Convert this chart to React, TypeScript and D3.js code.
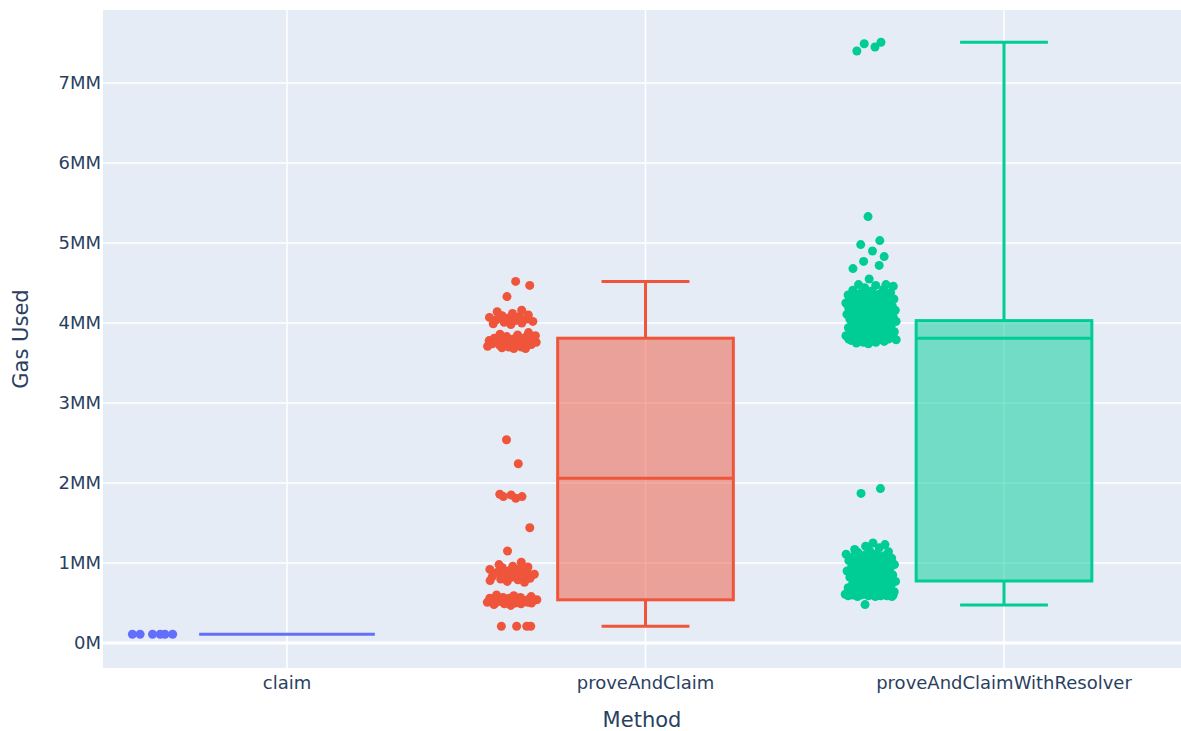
import React from 'react';
import * as d3 from 'd3';

const categories = ['claim', 'proveAndClaim', 'proveAndClaimWithResolver'];
const colors = ['#636efa', '#EF553B', '#00cc96'];

// values in millions of gas
const claimPoints = [0.11, 0.11, 0.11, 0.11, 0.11, 0.11];

const proveAndClaimPoints = [
  4.52, 4.47, 4.33,
  4.16, 4.14, 4.12, 4.10, 4.09, 4.08, 4.07, 4.06, 4.05, 4.04, 4.03, 4.02, 4.01, 4.00, 3.99, 3.98,
  3.88, 3.86, 3.85, 3.84, 3.83, 3.82, 3.81, 3.80, 3.80, 3.79, 3.79, 3.78, 3.78, 3.77, 3.77,
  3.76, 3.76, 3.75, 3.75, 3.74, 3.74, 3.73, 3.72, 3.72, 3.71, 3.70, 3.70, 3.69, 3.68, 3.68,
  2.54, 2.24, 1.86, 1.85, 1.83, 1.83, 1.81, 1.44, 1.15, 1.01,
  0.98, 0.96, 0.95, 0.94, 0.93, 0.92, 0.90, 0.89, 0.88, 0.87, 0.86, 0.85, 0.84, 0.83,
  0.82, 0.81, 0.80, 0.79, 0.78, 0.77, 0.76,
  0.60, 0.59, 0.58, 0.57, 0.57, 0.56, 0.56, 0.55, 0.55, 0.54, 0.54, 0.54, 0.53, 0.53,
  0.53, 0.52, 0.52, 0.52, 0.51, 0.51, 0.51, 0.50, 0.50, 0.50, 0.49, 0.49, 0.48, 0.47,
  0.21, 0.21, 0.21, 0.21,
];

const resolverPoints = [
  7.51, 7.49, 7.45, 7.40,
  5.33, 5.03, 4.98, 4.90, 4.83, 4.77, 4.72, 4.68, 4.55, 4.48, 4.48,
  4.47, 4.46, 4.44, 4.42, 4.41, 4.40, 4.38, 4.37, 4.36, 4.35, 4.34, 4.33, 4.32, 4.31,
  4.30, 4.30, 4.29, 4.28, 4.27, 4.27, 4.26, 4.25, 4.25, 4.24, 4.23, 4.23, 4.22, 4.21,
  4.21, 4.20, 4.19, 4.19, 4.18, 4.17, 4.17, 4.16, 4.15, 4.15, 4.14, 4.13, 4.13, 4.12,
  4.11, 4.11, 4.10, 4.09, 4.09, 4.08, 4.07, 4.07, 4.06, 4.05, 4.05, 4.04, 4.03, 4.03,
  4.02, 4.01, 4.00, 3.99, 3.98, 3.97, 3.96, 3.95, 3.94, 3.93, 3.92, 3.91, 3.90, 3.89,
  3.88, 3.87, 3.87, 3.86, 3.86, 3.85, 3.85, 3.84, 3.84, 3.83, 3.83, 3.82, 3.82, 3.81,
  3.81, 3.80, 3.80, 3.80, 3.79, 3.79, 3.79, 3.78, 3.78, 3.78, 3.77, 3.77, 3.76, 3.76,
  3.75, 3.74,
  1.93, 1.87,
  1.25, 1.23, 1.21, 1.19, 1.17, 1.15, 1.14, 1.13, 1.12, 1.11, 1.10, 1.09, 1.08, 1.07,
  1.06, 1.05, 1.04, 1.03, 1.02, 1.01, 1.00, 0.99, 0.98, 0.97, 0.96, 0.95, 0.94, 0.93,
  0.92, 0.91, 0.90, 0.89, 0.88, 0.87, 0.86, 0.85, 0.84, 0.83, 0.82, 0.81, 0.80, 0.79,
  0.78, 0.77, 0.76, 0.75, 0.74, 0.73, 0.72, 0.71, 0.70, 0.69, 0.68, 0.67, 0.66, 0.65,
  0.64, 0.63, 0.63, 0.62, 0.62, 0.62, 0.61, 0.61, 0.61, 0.61, 0.60, 0.60, 0.60, 0.60,
  0.60, 0.59, 0.59, 0.59, 0.59, 0.58, 0.58, 0.58, 0.48,
];

const seriesPoints = [claimPoints, proveAndClaimPoints, resolverPoints];

// box statistics (millions)
const boxMin = [0.11, 0.21, 0.475];
const boxQ1 = [0.11, 0.54, 0.775];
const boxMedian = [0.11, 2.06, 3.81];
const boxQ3 = [0.11, 3.81, 4.03];
const boxMax = [0.11, 4.52, 7.51];

const yTicks = [0, 1, 2, 3, 4, 5, 6, 7];
const yTickLabels = ['0M', '1MM', '2MM', '3MM', '4MM', '5MM', '6MM', '7MM'];

const W = 1181;
const H = 731;
const plotL = 103;
const plotR = 1181;
const plotT = 10;
const plotB = 668;
const FONT = '"DejaVu Sans", "Open Sans", sans-serif';
const TEXT = '#2a3f5f';

const x = d3.scaleLinear().domain([0, 2]).range([287, 1004]);
const y = d3.scaleLinear().domain([-0.3125, 7.9125]).range([plotB, plotT]);

const step = x(1) - x(0);
const boxHalf = step * 0.245;
const pointOffset = -step * 0.371;
const jitter = 0.3;

function jitterPoints(vals: number[], seed: number) {
  const sorted = [...vals].sort((a, b) => a - b);
  const n = sorted.length;
  const range = sorted[n - 1] - sorted[0];
  const minSpread = range / 20 || 1e-3;
  const K = 5;
  const factors: number[] = [];
  let maxF = 0;
  for (let i = 0; i < n; i++) {
    const i0 = Math.max(0, i - K);
    const i1 = Math.min(n - 1, i + K);
    const f = Math.sqrt((i1 - i0) / (sorted[i1] - sorted[i0] + minSpread)) || 0;
    factors.push(f);
    maxF = Math.max(maxF, f);
  }
  return sorted.map((v, i) => {
    const r = ((i + 1) * 0.6180339887 + seed) % 1;
    const rel = Math.sqrt(factors[i] / (maxF || 1));
    const off = rel * jitter * 2 * (r - 0.5) * boxHalf;
    return { v, off };
  });
}

export default function App() {
  return (
    <svg
      width={W}
      height={H}
      style={{ position: 'absolute', left: 0, top: 0, background: '#fff' }}
      fontFamily={FONT}
    >
      <rect x={plotL} y={plotT} width={plotR - plotL} height={plotB - plotT} fill="#E5ECF6" />
      {categories.map((c, i) => (
        <line key={c} x1={x(i)} x2={x(i)} y1={plotT} y2={plotB} stroke="#fff" strokeWidth={1.5} />
      ))}
      {yTicks.map((t) => (
        <line
          key={t}
          x1={plotL}
          x2={plotR}
          y1={y(t)}
          y2={y(t)}
          stroke="#fff"
          strokeWidth={t === 0 ? 3 : 1.5}
        />
      ))}
      {categories.map((c, i) => {
        const cx = x(i);
        const col = colors[i];
        const capHalf = boxHalf / 2;
        return (
          <g key={c}>
            <rect
              x={cx - boxHalf}
              y={y(boxQ3[i])}
              width={boxHalf * 2}
              height={Math.max(0, y(boxQ1[i]) - y(boxQ3[i]))}
              fill={col}
              fillOpacity={0.5}
              stroke={col}
              strokeWidth={3}
            />
            <line x1={cx - boxHalf} x2={cx + boxHalf} y1={y(boxMedian[i])} y2={y(boxMedian[i])} stroke={col} strokeWidth={3} />
            <line x1={cx} x2={cx} y1={y(boxQ3[i])} y2={y(boxMax[i])} stroke={col} strokeWidth={3} />
            <line x1={cx} x2={cx} y1={y(boxQ1[i])} y2={y(boxMin[i])} stroke={col} strokeWidth={3} />
            {boxMax[i] !== boxQ3[i] && (
              <line x1={cx - capHalf} x2={cx + capHalf} y1={y(boxMax[i])} y2={y(boxMax[i])} stroke={col} strokeWidth={3} />
            )}
            {boxMin[i] !== boxQ1[i] && (
              <line x1={cx - capHalf} x2={cx + capHalf} y1={y(boxMin[i])} y2={y(boxMin[i])} stroke={col} strokeWidth={3} />
            )}
            {jitterPoints(seriesPoints[i], i * 0.37).map((p, j) => (
              <circle key={j} cx={cx + pointOffset + p.off} cy={y(p.v)} r={4.5} fill={col} />
            ))}
          </g>
        );
      })}
      {yTicks.map((t, i) => (
        <text key={t} x={101} y={y(t)} dy="0.36em" textAnchor="end" fontSize={18} fill={TEXT}>
          {yTickLabels[i]}
        </text>
      ))}
      {categories.map((c, i) => (
        <text key={c} x={x(i)} y={689} textAnchor="middle" fontSize={18} fill={TEXT}>
          {c}
        </text>
      ))}
      <text x={(plotL + plotR) / 2} y={727} textAnchor="middle" fontSize={21} fill={TEXT}>
        Method
      </text>
      <text
        transform={`translate(28, ${(plotT + plotB) / 2}) rotate(-90)`}
        textAnchor="middle"
        fontSize={21}
        fill={TEXT}
      >
        Gas Used
      </text>
    </svg>
  );
}
